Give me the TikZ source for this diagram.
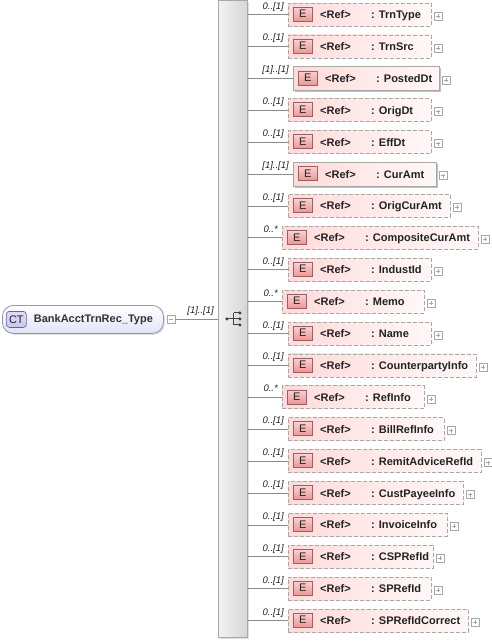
\documentclass[tikz,border=0pt]{standalone}
\usepackage{fontspec}
\setmainfont{Liberation Sans}
\usetikzlibrary{shadows}
\definecolor{linegray}{HTML}{8C8C8C}
\definecolor{boxborder}{HTML}{A8A8A8}
\definecolor{pinkL}{HTML}{FFDADA}
\definecolor{pinkR}{HTML}{FFF8F8}
\definecolor{iconT}{HTML}{FAD2D2}
\definecolor{iconB}{HTML}{EC9696}
\definecolor{iconD}{HTML}{9C6060}
\definecolor{txtc}{HTML}{222222}
\definecolor{ctL}{HTML}{E2E2F8}
\definecolor{ctD}{HTML}{9494B4}
\definecolor{ctI}{HTML}{C8C8F0}
\definecolor{ctID}{HTML}{6464A0}
\definecolor{barL}{HTML}{F2F2F2}
\definecolor{barR}{HTML}{D6D6D6}
\def\labo{0..[1]}
\def\labr{[1]..[1]}
\def\labm{0..*}
\def\lefto{288}
\def\leftr{293}
\def\leftm{282}
\tikzset{
  conn/.style={draw=linegray, line width=0.8pt},
  ebase/.style={inner sep=0pt, minimum height=23pt, left color=pinkL, right color=pinkR},
  eo/.style={ebase, draw=boxborder, line width=0.8pt, dash pattern=on 4pt off 2pt},
  em/.style={ebase, draw=boxborder, line width=0.8pt, dash pattern=on 4pt off 2pt},
  er/.style={ebase, draw=boxborder, line width=0.8pt, minimum height=24pt,
    drop shadow={shadow xshift=1.5pt, shadow yshift=-1.5pt, fill=black!30, opacity=0.8}},
  eicon/.style={draw=iconD, line width=0.6pt, top color=iconT, bottom color=iconB,
    minimum width=19pt, minimum height=14pt, inner sep=0pt, font=\fontsize{11}{11}\selectfont, text=txtc},
  txt/.style={inner sep=0pt, font=\bfseries\fontsize{11}{11}\selectfont, text=txtc},
  mult/.style={inner sep=0pt, font=\itshape\fontsize{9.5}{9.5}\selectfont, text=txtc},
  plusbtn/.style={draw=boxborder, fill=white, line width=0.6pt, minimum width=8pt, minimum height=8pt, inner sep=0pt},
  plusline/.style={draw=black!35, line width=0.6pt},
}
\begin{document}
\begin{tikzpicture}[x=1pt,y=-1pt]
\useasboundingbox (0,0) rectangle (491,641);
% sequence bar
\node[anchor=north west, minimum width=29pt, minimum height=637pt, inner sep=0pt,
  left color=barL, right color=barR, draw=boxborder, line width=0.8pt,
  drop shadow={shadow xshift=1.5pt, shadow yshift=-1.5pt, fill=black!25}] (bar) at (218,0) {};
% complex type node
\node[anchor=north west, minimum width=161pt, minimum height=28pt, inner sep=0pt, rounded corners=11pt,
  top color=white, bottom color=ctL, draw=ctD, line width=0.8pt,
  drop shadow={shadow xshift=1.5pt, shadow yshift=-1.5pt, fill=black!25}] (ct) at (2,305) {};
\node[anchor=west, minimum width=20pt, minimum height=16pt, inner sep=0pt, rounded corners=3pt,
  top color=ctI!60, bottom color=ctI, draw=ctID, line width=0.7pt,
  font=\fontsize{11}{11}\selectfont, text=txtc] (cticon) at ([xshift=4pt]ct.west) {CT};
\node[txt, anchor=west, text=black!80] (ctname) at ([xshift=7pt]cticon.east) {BankAcctTrnRec\_Type};
\node[plusbtn, anchor=west] (minus) at ([xshift=3pt]ct.east) {};
\draw[plusline] ([xshift=-2pt]minus.center) -- ([xshift=2pt]minus.center);
\draw[conn] (minus.east) -- (minus.east -| bar.west);
\node[mult, anchor=base east] (ctmult) at ([xshift=-4pt, yshift=5.5pt]minus.east -| bar.west) {[1]..[1]};
% sequence icon
\coordinate (seq) at (bar.center);
\fill[black!75] ([xshift=-6pt]seq) circle (1.7pt);
\draw[black!75, line width=0.9pt] ([xshift=-6pt]seq) -- ([xshift=1pt]seq)
  ([xshift=1pt, yshift=6pt]seq) -- ([xshift=1pt, yshift=-6pt]seq)
  ([xshift=1pt, yshift=6pt]seq) -- ([xshift=7pt, yshift=6pt]seq)
  ([xshift=1pt, yshift=-6pt]seq) -- ([xshift=7pt, yshift=-6pt]seq)
  ([xshift=1pt]seq) -- ([xshift=7pt]seq);
\fill[black!75] ([xshift=7pt, yshift=6pt]seq) circle (1.7pt)
  ([xshift=7pt]seq) circle (1.7pt)
  ([xshift=7pt, yshift=-6pt]seq) circle (1.7pt);
% elements
\foreach \i/\n/\k/\r in {
  0/TrnType/o/431, 1/TrnSrc/o/431, 2/PostedDt/r/439, 3/OrigDt/o/431,
  4/EffDt/o/431, 5/CurAmt/r/436, 6/OrigCurAmt/o/450, 7/CompositeCurAmt/m/478,
  8/IndustId/o/431, 9/Memo/m/424, 10/Name/o/431, 11/CounterpartyInfo/o/476,
  12/RefInfo/m/424, 13/BillRefInfo/o/444, 14/RemitAdviceRefId/o/481,
  15/CustPayeeInfo/o/463, 16/InvoiceInfo/o/447, 17/CSPRefId/o/433,
  18/SPRefId/o/431, 19/SPRefIdCorrect/o/468}{
  \pgfmathsetmacro\yy{14.5+31.9*\i}
  \edef\lft{\csname left\k\endcsname}
  \node[e\k, anchor=west, minimum width=\r pt-\lft pt] (b\i) at (\lft,\yy) {};
  \draw[conn] (bar.east |- b\i.west) -- (b\i.west);
  \node[mult, anchor=base east] (m\i) at ([xshift=-4pt, yshift=5.5pt]b\i.west) {\csname lab\k\endcsname};
  \node[eicon, anchor=west] (e\i) at ([xshift=5pt, yshift=0.5pt]b\i.west) {E};
  \node[txt, anchor=base west] (r\i) at ([xshift=32pt, yshift=-4pt]b\i.west) {<Ref>};
  \node[txt, anchor=base west] (n\i) at ([xshift=83pt, yshift=-4pt]b\i.west) {: \n};
  \node[plusbtn, anchor=west] (p\i) at ([xshift=2pt, yshift=-1.5pt]b\i.east) {};
  \draw[plusline] ([xshift=-2pt]p\i.center) -- ([xshift=2pt]p\i.center)
    ([yshift=-2pt]p\i.center) -- ([yshift=2pt]p\i.center);
}
\end{tikzpicture}
\end{document}
